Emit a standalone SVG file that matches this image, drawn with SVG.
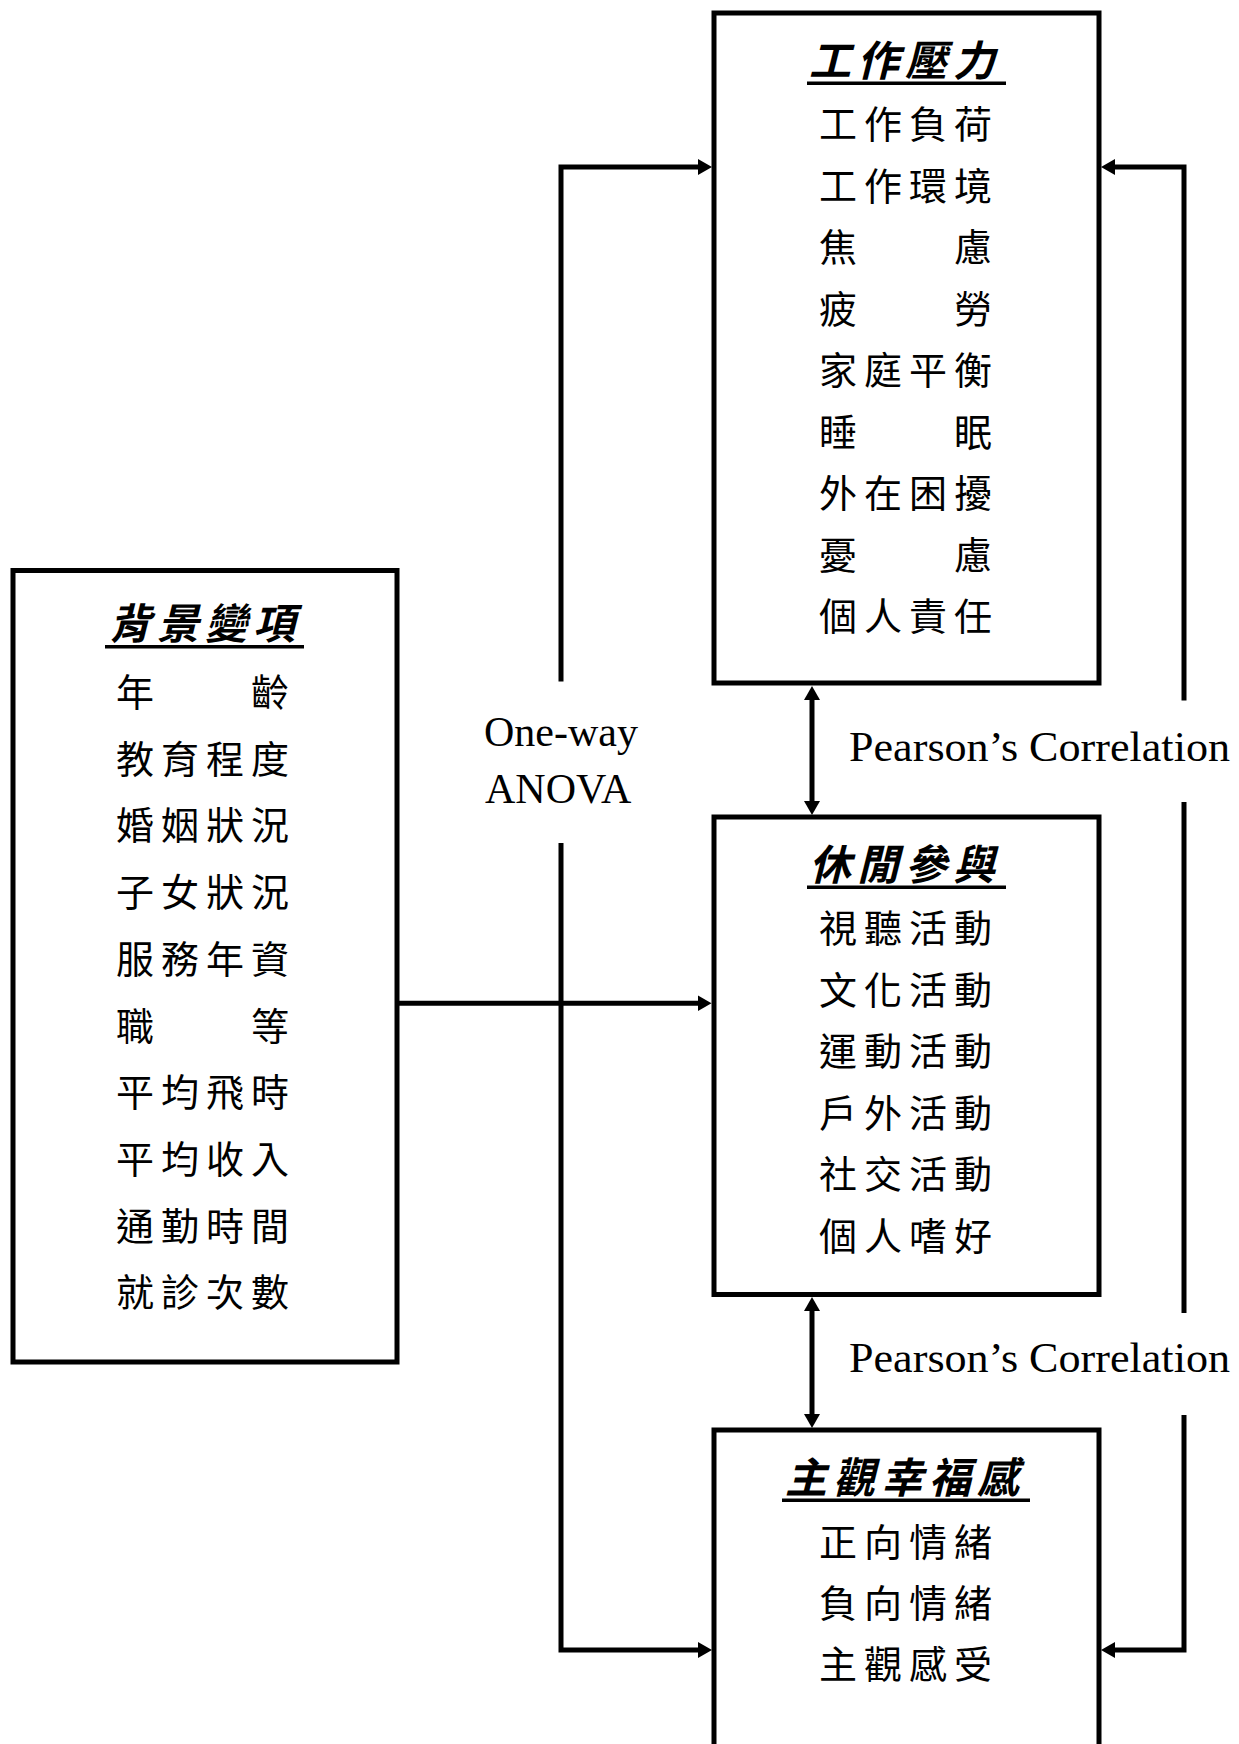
<svg xmlns="http://www.w3.org/2000/svg" width="1239" height="1744" viewBox="0 0 1239 1744">
  <style>
    .box { fill: #ffffff; stroke: #000000; stroke-width: 5; }
    .rule { stroke: #000000; stroke-width: 3.5; }
    .wire { fill: none; stroke: #000000; stroke-width: 5; stroke-linejoin: miter; }
    .title { font-family: "Noto Sans CJK TC", "Noto Sans CJK SC", sans-serif; font-size: 42px; font-weight: bold; font-style: italic; letter-spacing: 6px; fill: #000000; }
    .item { font-family: "Noto Sans CJK TC", "Noto Sans CJK SC", sans-serif; font-size: 38px; letter-spacing: 7px; fill: #000000; }
    .label { font-family: "Liberation Serif", "Times New Roman", serif; font-size: 42px; fill: #000000; }
  </style>
  <defs>
    <marker id="arrow" markerUnits="userSpaceOnUse" markerWidth="15" markerHeight="16" refX="1" refY="8" orient="auto-start-reverse">
      <path d="M0,0 L14,8 L0,16 z" fill="#000000"/>
    </marker>
  </defs>
  <rect width="1239" height="1744" fill="#ffffff"/>

  <!-- connectors -->
  <g id="connectors">
    <!-- One-way ANOVA: background variables to the three outcome boxes -->
    <path class="wire" d="M561,681.5 V167 H699" marker-end="url(#arrow)"/>
    <path class="wire" d="M561,843 V1650 H699" marker-end="url(#arrow)"/>
    <path class="wire" d="M397,1003.3 H698.5" marker-end="url(#arrow)"/>
    <!-- right-hand loop between work stress and well-being -->
    <path class="wire" d="M1184,700.5 V167 H1114" marker-end="url(#arrow)"/>
    <path class="wire" d="M1184,802 V1313"/>
    <path class="wire" d="M1184,1415 V1650 H1114" marker-end="url(#arrow)"/>
    <!-- Pearson's correlation links -->
    <path class="wire" d="M812,699 V802" marker-start="url(#arrow)" marker-end="url(#arrow)"/>
    <path class="wire" d="M812,1310 V1415" marker-start="url(#arrow)" marker-end="url(#arrow)"/>
    <text class="label" x="484" y="746">One-way</text>
    <text class="label" x="485" y="803">ANOVA</text>
    <text class="label" x="849" y="761" font-size="43" textLength="381" lengthAdjust="spacingAndGlyphs">Pearson’s Correlation</text>
    <text class="label" x="849" y="1372" font-size="43" textLength="381" lengthAdjust="spacingAndGlyphs">Pearson’s Correlation</text>
  </g>

  <!-- 工作壓力 -->
  <g id="work-stress">
    <rect class="box" x="714" y="13" width="385" height="670"/>
    <text class="title" x="809" y="76">工作壓力</text>
    <line class="rule" x1="807" y1="83.3" x2="1006" y2="83.3"/>
    <text class="item" x="819" y="138">工作負荷</text>
    <text class="item" x="819" y="199.5">工作環境</text>
    <text class="item" x="819" y="261">焦　　慮</text>
    <text class="item" x="819" y="322.5">疲　　勞</text>
    <text class="item" x="819" y="384">家庭平衡</text>
    <text class="item" x="819" y="445.5">睡　　眠</text>
    <text class="item" x="819" y="507">外在困擾</text>
    <text class="item" x="819" y="568.5">憂　　慮</text>
    <text class="item" x="819" y="630">個人責任</text>
  </g>

  <!-- 休閒參與 -->
  <g id="leisure">
    <rect class="box" x="714" y="817" width="385" height="477.5"/>
    <text class="title" x="809" y="880">休閒參與</text>
    <line class="rule" x1="807" y1="887.3" x2="1006" y2="887.3"/>
    <text class="item" x="819" y="942">視聽活動</text>
    <text class="item" x="819" y="1003.5">文化活動</text>
    <text class="item" x="819" y="1065">運動活動</text>
    <text class="item" x="819" y="1126.5">戶外活動</text>
    <text class="item" x="819" y="1188">社交活動</text>
    <text class="item" x="819" y="1249.5">個人嗜好</text>
  </g>

  <!-- 主觀幸福感 -->
  <g id="well-being">
    <rect class="box" x="714" y="1430" width="385" height="400"/>
    <text class="title" x="785" y="1493">主觀幸福感</text>
    <line class="rule" x1="782" y1="1500.3" x2="1030" y2="1500.3"/>
    <text class="item" x="819" y="1556">正向情緒</text>
    <text class="item" x="819" y="1617">負向情緒</text>
    <text class="item" x="819" y="1678">主觀感受</text>
  </g>

  <!-- 背景變項 -->
  <g id="background">
    <rect class="box" x="13" y="570.5" width="384" height="791.5"/>
    <text class="title" x="109" y="639">背景變項</text>
    <line class="rule" x1="105" y1="646.7" x2="304" y2="646.7"/>
    <text class="item" x="116" y="706">年　　齡</text>
    <text class="item" x="116" y="772.7">教育程度</text>
    <text class="item" x="116" y="839.4">婚姻狀況</text>
    <text class="item" x="116" y="906.1">子女狀況</text>
    <text class="item" x="116" y="972.8">服務年資</text>
    <text class="item" x="116" y="1039.5">職　　等</text>
    <text class="item" x="116" y="1106.2">平均飛時</text>
    <text class="item" x="116" y="1172.9">平均收入</text>
    <text class="item" x="116" y="1239.6">通勤時間</text>
    <text class="item" x="116" y="1306.3">就診次數</text>
  </g>
</svg>
